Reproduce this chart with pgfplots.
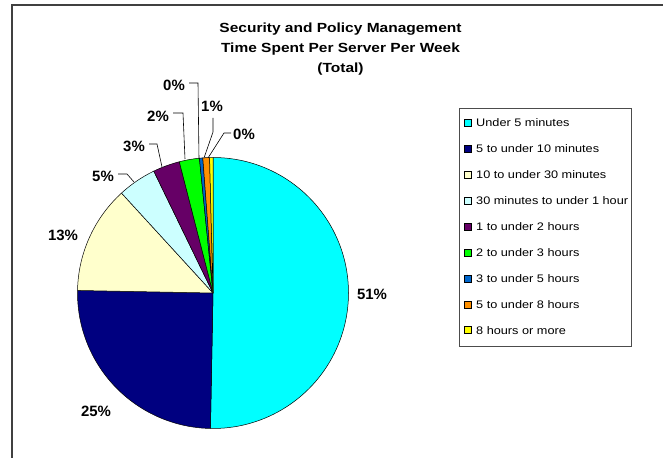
\documentclass[border=0pt]{standalone}
\usepackage{pgfplots}
\pgfplotsset{compat=1.18}
\usepackage{pgfplotstable}
\usepackage{fontspec}
\setmainfont{Liberation Sans}
\newfontfamily\titlefont[FakeStretch=1.17]{Liberation Sans}
\newfontfamily\legfont[FakeStretch=1.16]{Liberation Sans}

\definecolor{c1}{HTML}{00FFFF}
\definecolor{c2}{HTML}{000080}
\definecolor{c3}{HTML}{FFFFCC}
\definecolor{c4}{HTML}{CCFFFF}
\definecolor{c5}{HTML}{660066}
\definecolor{c6}{HTML}{00FF00}
\definecolor{c7}{HTML}{0066CC}
\definecolor{c8}{HTML}{FF9000}
\definecolor{c9}{HTML}{FFFF00}

\pgfplotstableread{
value color
50.3 c1
25.0 c2
12.9 c3
4.6  c4
3.2  c5
2.4  c6
0.4  c7
0.8  c8
0.4  c9
}\piedata

\begin{document}
\begin{tikzpicture}
\useasboundingbox (0,0) rectangle (663bp,458bp);
\begin{axis}[
  x=1bp, y=1bp, xmin=0, xmax=663, ymin=0, ymax=458,
  hide axis, clip=false, at={(0,0)}, anchor=south west,
]
\gdef\startang{90}
\pgfplotsforeachungrouped \i in {0,...,8}{%
  \pgfplotstablegetelem{\i}{value}\of\piedata \let\val\pgfplotsretval
  \pgfplotstablegetelem{\i}{color}\of\piedata \let\col\pgfplotsretval
  \pgfmathsetmacro\endang{\startang-3.6*\val}%
  \edef\doslice{\noexpand\filldraw[fill=\col, draw=black, line width=0.5bp, line join=round]
    (axis cs:213,165) -- ++(\startang:135.5bp)
    arc[start angle=\startang, end angle=\endang, radius=135.5bp] -- cycle;}%
  \doslice
  \global\let\startang\endang
}
\end{axis}

% frame
\draw[line width=1.3bp, black!75] (12bp,0) -- (12bp,453bp) -- (663bp,453bp);

% legend
\draw[line width=0.8bp, black!70] (459bp,112bp) rectangle (631bp,350bp);
\foreach \c/\t [count=\k from 0] in {c1/Under 5 minutes, c2/5 to under 10 minutes, c3/10 to under 30 minutes, c4/30 minutes to under 1 hour, c5/1 to under 2 hours, c6/2 to under 3 hours, c7/3 to under 5 hours, c8/5 to under 8 hours, c9/8 hours or more}{
  \pgfmathsetmacro\yc{335-25.9*\k}
  \filldraw[fill=\c, draw=black, line width=0.5bp] (464.5bp,\yc bp-3.5bp) rectangle (471.5bp,\yc bp+3.5bp);
  \node[font=\legfont\fontsize{11}{13}\selectfont, anchor=base west, inner sep=0pt] at (476bp,\yc bp-4bp) {\t};
}

% title
\begin{scope}[every node/.style={font=\titlefont\bfseries\fontsize{13.3}{16}\selectfont, anchor=base, inner sep=0pt}]
\node at (340.5bp,425bp) {Security and Policy Management};
\node at (340.5bp,405bp) {Time Spent Per Server Per Week};
\node at (340.5bp,385bp) {(Total)};
\end{scope}

% data labels
\begin{scope}[every node/.style={font=\bfseries\fontsize{15}{18}\selectfont, anchor=base, inner sep=0pt}]
\node at (372bp,158bp) {51\%};
\node at (96bp,41bp) {25\%};
\node at (63bp,217bp) {13\%};
\node at (103bp,276bp) {5\%};
\node at (134bp,306bp) {3\%};
\node at (158bp,336bp) {2\%};
\node at (174bp,367bp) {0\%};
\node at (212bp,346bp) {1\%};
\node at (244bp,318bp) {0\%};
\end{scope}

% leader lines
\begin{scope}[line width=0.6bp]
\draw (118bp,284bp) -- (127bp,284bp) -- (134bp,276bp);
\draw (149bp,314bp) -- (157bp,314bp) -- (162bp,291bp);
\draw (173bp,345bp) -- (183bp,345bp) -- (185bp,299bp);
\draw (189bp,375bp) -- (198bp,375bp) -- (199bp,299bp);
\draw (213bp,340bp) -- (213bp,326bp) -- (204bp,300bp);
\draw (231bp,325bp) -- (224bp,325bp) -- (208bp,300bp);
\end{scope}
\end{tikzpicture}
\end{document}
